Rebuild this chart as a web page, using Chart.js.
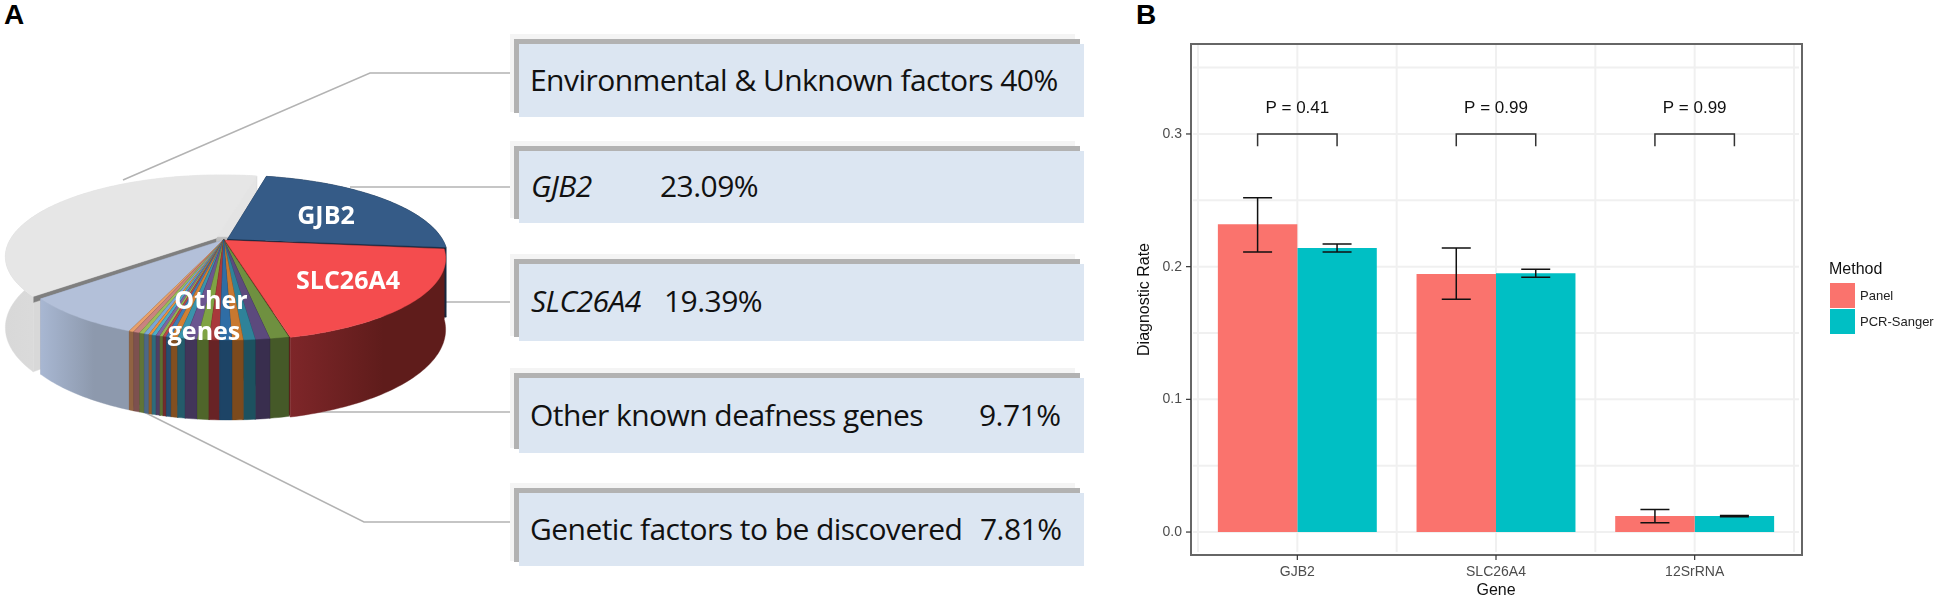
<!DOCTYPE html>
<html>
<head>
<meta charset="utf-8">
<script src="https://cdn.jsdelivr.net/npm/chart.js@4"></script>
<style>
  html, body { margin: 0; padding: 0; background: #fff; width: 1944px; height: 600px; overflow: hidden; }
  canvas { position: absolute; top: 0; }
  #pie { left: 0; }
  #bars { left: 1100px; }
  .tag { position: absolute; top: -1px; font: bold 28px "Liberation Sans", sans-serif; color: #000; }
  .faint, .frame, .fill { position: absolute; }
  .faint { background: #f4f4f4; }
  .frame { background: #b2b2b2; }
  .fill { background: #dce6f2; }
  .txt { position: absolute; font: 30px "Open Sans", sans-serif; letter-spacing: -0.55px; color: #111; white-space: nowrap; line-height: 40px; }
  .txt.gene { font-style: italic; }
</style>
</head>
<body>
<div class="tag" style="left:4px">A</div>
<div class="tag" style="left:1136px">B</div>
<canvas id="pie" width="530" height="600"></canvas>
<canvas id="bars" width="844" height="600"></canvas>
<script>
// ─── Panel A data ─────────────────────────────────────────────────────────────
const sliceShares = { gjb2: 23.09, slc: 19.39, discover: 7.81, env: 40 };
const otherGeneShares = [1.15, 0.87, 0.71, 0.67, 0.71, 0.63, 0.69, 0.73, 0.46, 0.40,
                         0.30, 0.20, 0.20, 0.24, 0.26, 0.20, 0.30, 0.30, 0.40, 0.30];
const calloutNames = ['Environmental & Unknown factors', 'GJB2', 'SLC26A4', 'Other known deafness genes', 'Genetic factors to be discovered'];
const calloutValues = ['40%', '23.09%', '19.39%', '9.71%', '7.81%'];

// ─── Panel B data ─────────────────────────────────────────────────────────────
const genes = ['GJB2', 'SLC26A4', '12SrRNA'];
const panelRate = [0.232, 0.1945, 0.012];
const panelLow = [0.211, 0.1755, 0.007];
const panelHigh = [0.252, 0.214, 0.017];
const sangerRate = [0.214, 0.195, 0.012];
const sangerLow = [0.211, 0.192, 0.0115];
const sangerHigh = [0.217, 0.198, 0.0125];
const pLabels = ['P = 0.41', 'P = 0.99', 'P = 0.99'];
const yTicks = [0, 0.1, 0.2, 0.3];
const yGrid = [0, 0.05, 0.1, 0.15, 0.2, 0.25, 0.3, 0.35];

// ─── Callout boxes ────────────────────────────────────────────────────────────
const boxTops = [39, 146, 259, 373, 488];
const boxBottoms = [117, 223, 341, 453, 566];
const valueLeft = [0, 660, 664, 979, 980];
const baselines = [91, 197, 312, 426, 540];

function addDiv(cls, left, top, w, h) {
    const d = document.createElement('div');
    d.className = cls;
    d.style.cssText = `left:${left}px;top:${top}px;` + (w ? `width:${w}px;height:${h}px;` : '');
    document.body.appendChild(d);
    return d;
}

calloutNames.forEach((name, i) => {
    const t = boxTops[i], b = boxBottoms[i];
    addDiv('faint', 510, t - 5, 565, b - t);
    addDiv('frame', 514, t, 566, 5);
    addDiv('frame', 514, t, 5, b - t - 4);
    addDiv('fill', 519, t + 5, 565, b - t - 5);
    const y = baselines[i] - 31;
    const isGene = i === 1 || i === 2;
    const n = addDiv('txt' + (isGene ? ' gene' : ''), isGene ? 531 : 530, y);
    n.textContent = name;
    if (i === 0) {
        n.textContent = name + ' ' + calloutValues[i];
    } else {
        addDiv('txt', valueLeft[i], y).textContent = calloutValues[i];
    }
});

// ─── Pie projection: unit disc → tilted ellipse with an off-centre apex ───────
const PIE = { cx: 228, cy: 258, rx: 216, ry: 82, au: -0.02, av: -0.22 };

function project(x, y) {
    const { cx, cy, rx, ry, au, av } = PIE;
    const s2 = au * au + av * av;
    const dot = x * au + y * av;
    const k = dot / s2;
    const px = k * au, py = k * av;
    const c = Math.sqrt(1 - s2);
    const d = 1 + dot;
    const u = (au + px + c * (x - px)) / d;
    const v = (av + py + c * (y - py)) / d;
    return [cx + rx * u, cy + ry * v];
}

function wallDepth(y) {
    return 62 + (y - (PIE.cy - PIE.ry)) / (2 * PIE.ry) * 18;
}

function darken(hex, f) {
    const n = parseInt(hex.slice(1), 16);
    const ch = s => Math.round(((n >> s) & 255) * f);
    return `rgb(${ch(16)},${ch(8)},${ch(0)})`;
}

function fillPoly(ctx, pts, fill) {
    ctx.beginPath();
    pts.forEach((p, i) => i ? ctx.lineTo(p[0], p[1]) : ctx.moveTo(p[0], p[1]));
    ctx.closePath();
    ctx.fillStyle = fill;
    ctx.fill();
    ctx.strokeStyle = fill;
    ctx.lineWidth = 0.4;
    ctx.stroke();
}

const drop = p => [p[0], p[1] + wallDepth(p[1])];

// ─── Slice colours ────────────────────────────────────────────────────────────
const stripeTops = ['#6f9040', '#5c4a7d', '#2f8299', '#c8782f', '#2f6da5', '#a8393b',
                    '#7fa344', '#6b5590', '#3a93ab', '#d27f33', '#3f7db5', '#b8474a',
                    '#93b552', '#8064a2', '#4bacc6', '#e8913f', '#7ba6d6', '#9bbb59', '#c9837f', '#e8a06a'];
const topColors = ['#355b87', '#f44c4e', ...stripeTops, '#b3c0d9', '#e6e6e6'];
const sideMain = { 0: ['#16283f', '#16283f'], 1: ['#7e2629', '#5f1c1b'], 22: ['#a8b7d2', '#8d99ad'], 23: ['#d8d8d8', '#e4e4e4'] };
// faces along the start and end edge of a slice
const radialMain = { 0: ['#12233a', '#12233a'], 1: ['#5f1a1a', '#5f1a1a'], 22: ['#8f9bb0', '#8f9bb0'], 23: ['#d8d8d8', '#bcbcbc'] };
const offsets = [6, 2, ...otherGeneShares.map(() => 0), 0, 11];
const ENV_INDEX = 23;

// ─── Draws the slices itself so the library's arc angles land on the tilted disc ──
const pie3d = {
    id: 'pie3d',
    beforeDatasetsDraw(chart) {
        const ctx = chart.ctx;
        ctx.save();
        ctx.strokeStyle = '#b3b3b3';
        ctx.lineWidth = 1.5;
        [[[123, 180], [370, 73], [514, 73]],
         [[350, 187], [519, 187]],
         [[436, 302], [514, 302]],
         [[295, 412], [514, 412]],
         [[130, 405], [364, 522], [514, 522]]].forEach(line => {
            ctx.beginPath();
            line.forEach((p, i) => i ? ctx.lineTo(p[0], p[1]) : ctx.moveTo(p[0], p[1]));
            ctx.stroke();
        });
        ctx.restore();
    },
    beforeDatasetDraw(chart) {
        const ctx = chart.ctx;
        const arcs = chart.getDatasetMeta(0).data;
        const slices = arcs.map((arc, i) => {
            const { startAngle, endAngle, outerRadius } = arc.getProps(['startAngle', 'endAngle', 'outerRadius']);
            const mid = (startAngle + endAngle) / 2;
            const off = arc.options.offset / outerRadius;
            const ox = off * Math.cos(mid), oy = off * Math.sin(mid);
            const apex = project(ox, oy);
            const rim = [];
            const n = Math.max(2, Math.ceil((endAngle - startAngle) / 0.02));
            for (let k = 0; k <= n; k++) {
                const a = startAngle + (endAngle - startAngle) * k / n;
                rim.push(project(ox + Math.cos(a), oy + Math.sin(a)));
            }
            // the big grey slice sits at the back whatever its midpoint says
            const order = i === ENV_INDEX ? -1 : rim[Math.floor(n / 2)][1];
            return { i, apex, rim, color: arc.options.backgroundColor, order };
        }).sort((a, b) => a.order - b.order);

        ctx.save();
        slices.forEach(s => {
            const first = s.rim[0], last = s.rim[s.rim.length - 1];
            const dark = darken(s.color, 0.5);
            const faces = radialMain[s.i] || [dark, dark];
            fillPoly(ctx, [s.apex, first, drop(first), drop(s.apex)], faces[0]);
            fillPoly(ctx, [s.apex, last, drop(last), drop(s.apex)], faces[1]);
            if (s.i === ENV_INDEX) {
                // only a thin dark edge of the grey slice shows above the light blue one
                const lip = p => [p[0], p[1] + 6];
                fillPoly(ctx, [s.apex, first, lip(first), lip(s.apex)], '#7f7f7f');
            }
            let side;
            if (sideMain[s.i]) {
                const xs = s.rim.map(p => p[0]);
                side = ctx.createLinearGradient(Math.min(...xs), 0, Math.max(...xs), 0);
                side.addColorStop(0, sideMain[s.i][0]);
                side.addColorStop(0.6, sideMain[s.i][1]);
                side.addColorStop(1, sideMain[s.i][1]);
            } else {
                side = darken(s.color, 0.62);
            }
            fillPoly(ctx, [...s.rim, ...s.rim.map(drop).reverse()], side);
            fillPoly(ctx, [s.apex, ...s.rim], s.color);
        });
        ctx.restore();
        return false;
    },
    afterDatasetsDraw(chart) {
        const ctx = chart.ctx;
        ctx.save();
        ctx.fillStyle = '#fff';
        ctx.font = 'bold 25px "Open Sans", sans-serif';
        ctx.textAlign = 'center';
        ctx.textBaseline = 'middle';
        ctx.fillText('GJB2', 326, 217);
        ctx.fillText('SLC26A4', 348, 282);
        ctx.fillText('Other', 211, 302);
        ctx.fillText('genes', 204, 333);
        ctx.restore();
    }
};

new Chart(document.getElementById('pie'), {
    type: 'pie',
    data: {
        labels: ['GJB2', 'SLC26A4', ...otherGeneShares.map(() => 'Other genes'), 'Genetic factors to be discovered', 'Environmental & Unknown factors'],
        datasets: [{
            data: [sliceShares.gjb2, sliceShares.slc, ...otherGeneShares, sliceShares.discover, sliceShares.env],
            backgroundColor: topColors,
            offset: offsets,
            borderWidth: 0,
        }]
    },
    options: {
        responsive: false,
        animation: false,
        rotation: 13,
        plugins: { legend: { display: false }, tooltip: { enabled: false } },
    },
    plugins: [pie3d]
});

// ─── Panel B extras: grid, frame, error bars, brackets, legend ────────────────
const FRAME = { left: 91, right: 702, top: 44, bottom: 555 };

const barExtras = {
    id: 'barExtras',
    beforeDatasetsDraw(chart) {
        const { ctx, scales: { x, y } } = chart;
        ctx.save();
        ctx.strokeStyle = '#f0f0f0';
        ctx.lineWidth = 2;
        yGrid.forEach(v => {
            ctx.beginPath();
            ctx.moveTo(FRAME.left + 2, y.getPixelForValue(v));
            ctx.lineTo(FRAME.right - 3, y.getPixelForValue(v));
            ctx.stroke();
        });
        const step = x.getPixelForValue(1) - x.getPixelForValue(0);
        for (let k = -0.5; k <= 2.5; k += 0.5) {
            const px = x.getPixelForValue(0) + k * step;
            ctx.beginPath();
            ctx.moveTo(px, FRAME.top + 1);
            ctx.lineTo(px, FRAME.bottom - 3);
            ctx.stroke();
        }
        ctx.restore();
    },
    afterDatasetsDraw(chart) {
        const { ctx, scales: { x, y } } = chart;
        const m0 = chart.getDatasetMeta(0).data;
        const m1 = chart.getDatasetMeta(1).data;
        ctx.save();

        // error bars
        ctx.strokeStyle = '#111';
        ctx.lineWidth = 1.5;
        const errorBar = (px, lo, hi) => {
            const yl = y.getPixelForValue(lo), yh = y.getPixelForValue(hi);
            ctx.beginPath();
            ctx.moveTo(px, yl); ctx.lineTo(px, yh);
            ctx.moveTo(px - 14.5, yl); ctx.lineTo(px + 14.5, yl);
            ctx.moveTo(px - 14.5, yh); ctx.lineTo(px + 14.5, yh);
            ctx.stroke();
        };
        genes.forEach((g, i) => {
            errorBar(m0[i].x, panelLow[i], panelHigh[i]);
            errorBar(m1[i].x, sangerLow[i], sangerHigh[i]);
        });

        // significance brackets
        ctx.strokeStyle = '#333';
        const yTop = y.getPixelForValue(0.3), yLeg = y.getPixelForValue(0.2907);
        ctx.fillStyle = '#111';
        ctx.font = '17px "Liberation Sans", sans-serif';
        ctx.textAlign = 'center';
        ctx.textBaseline = 'middle';
        genes.forEach((g, i) => {
            ctx.beginPath();
            ctx.moveTo(m0[i].x, yLeg); ctx.lineTo(m0[i].x, yTop);
            ctx.lineTo(m1[i].x, yTop); ctx.lineTo(m1[i].x, yLeg);
            ctx.stroke();
            ctx.fillText(pLabels[i], x.getPixelForValue(i), y.getPixelForValue(0.319));
        });

        // panel frame and tick marks
        ctx.strokeStyle = '#666';
        ctx.lineWidth = 2;
        ctx.strokeRect(FRAME.left, FRAME.top, FRAME.right - FRAME.left, FRAME.bottom - FRAME.top);
        ctx.strokeStyle = '#333';
        ctx.lineWidth = 1.2;
        yTicks.forEach(v => {
            const py = y.getPixelForValue(v);
            ctx.beginPath(); ctx.moveTo(FRAME.left - 5, py); ctx.lineTo(FRAME.left, py); ctx.stroke();
        });
        genes.forEach((g, i) => {
            const px = x.getPixelForValue(i);
            ctx.beginPath(); ctx.moveTo(px, FRAME.bottom); ctx.lineTo(px, FRAME.bottom + 5); ctx.stroke();
        });

        // legend
        ctx.textAlign = 'left';
        ctx.fillStyle = '#111';
        ctx.font = '16px "Liberation Sans", sans-serif';
        ctx.fillText('Method', 729, 270);
        ctx.font = '13px "Liberation Sans", sans-serif';
        chart.data.datasets.forEach((ds, i) => {
            const top = 283 + i * 26;
            ctx.fillStyle = ds.backgroundColor;
            ctx.fillRect(730, top, 25, 25);
            ctx.fillStyle = '#222';
            ctx.fillText(ds.label, 760, top + 13);
        });
        ctx.restore();
    }
};

new Chart(document.getElementById('bars'), {
    type: 'bar',
    data: {
        labels: genes,
        datasets: [
            { label: 'Panel', data: panelRate, backgroundColor: '#fa736d', categoryPercentage: 0.8, barPercentage: 1 },
            { label: 'PCR-Sanger', data: sangerRate, backgroundColor: '#00bfc4', categoryPercentage: 0.8, barPercentage: 1 },
        ]
    },
    options: {
        responsive: false,
        animation: false,
        layout: { padding: { top: 44, right: 150, left: 0, bottom: 0 } },
        plugins: { legend: { display: false }, tooltip: { enabled: false } },
        scales: {
            x: {
                afterFit: s => { s.height = 45; },
                grid: { display: false, drawTicks: false },
                border: { display: false },
                ticks: { color: '#4d4d4d', padding: 9, font: { family: '"Liberation Sans"', size: 14 } },
                title: { display: true, text: 'Gene', color: '#111', padding: 0, font: { family: '"Liberation Sans"', size: 16 } },
            },
            y: {
                min: -0.0173,
                max: 0.3678,
                afterFit: s => { s.width = 98; },
                afterBuildTicks: s => { s.ticks = yTicks.map(value => ({ value })); },
                grid: { display: false, drawTicks: false },
                border: { display: false },
                ticks: { color: '#4d4d4d', padding: 16, callback: v => v.toFixed(1), font: { family: '"Liberation Sans"', size: 14 } },
                title: { display: true, text: 'Diagnostic Rate', color: '#111', padding: { top: 35, bottom: 0 }, font: { family: '"Liberation Sans"', size: 16 } },
            }
        }
    },
    plugins: [barExtras]
});
</script>
</body>
</html>
